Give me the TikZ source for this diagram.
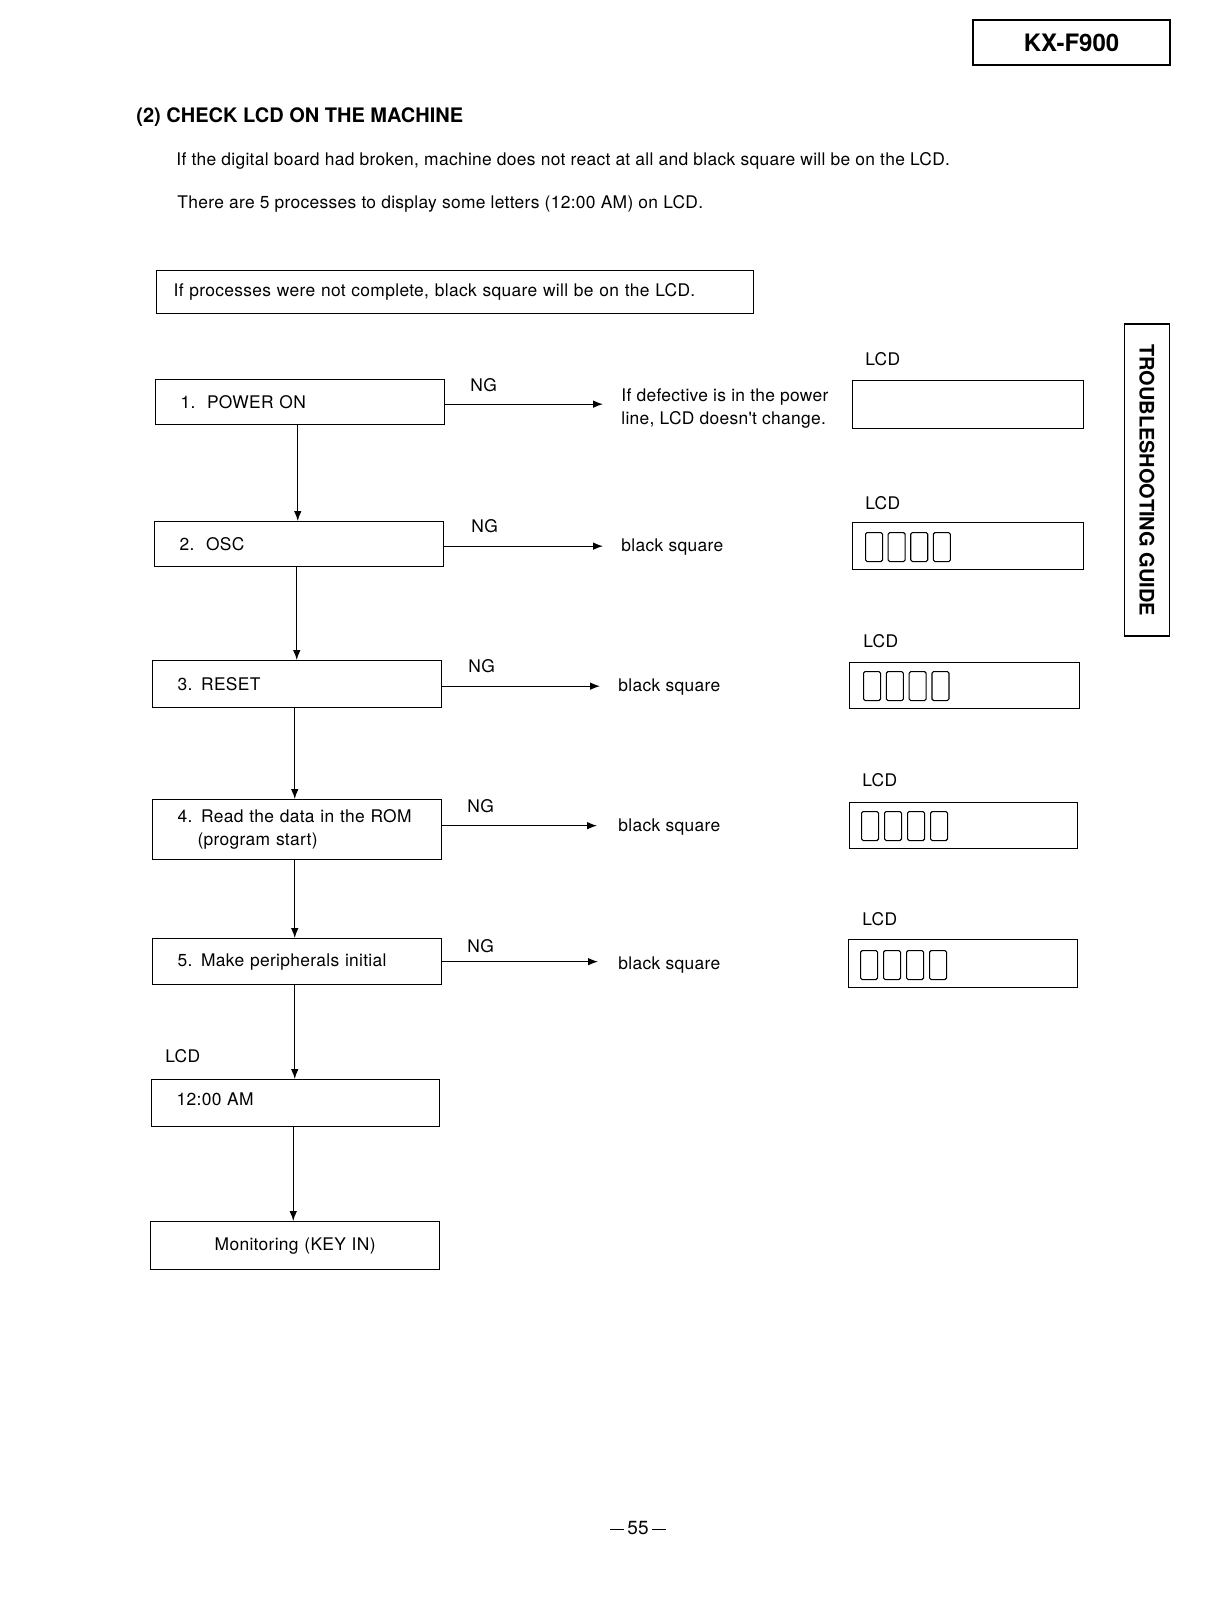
\documentclass[tikz,border=0pt]{standalone}
\usepackage{fontspec}
\setmainfont{TeX Gyre Heros}
\newfontfamily\bodyfam{TeX Gyre Heros}[LetterSpace=1.8]
\usetikzlibrary{arrows.meta,calc}
\def\PX{0.5pt}
\newcommand\bodyfont{\bodyfam\fontsize{8.7pt}{11.5pt}\selectfont}
\newcommand\headfont{\fontsize{10pt}{12pt}\selectfont\bfseries}
\newcommand\kxfont{\fontsize{12pt}{14pt}\selectfont\bfseries}
\begin{document}
\begin{tikzpicture}[x=0.5pt,y=-0.5pt,
  txt/.style={inner sep=0pt, anchor=base west, font=\bodyfont},
  flowbox/.style={draw, line width=0.65pt, anchor=north west, inner xsep=12.5pt, inner ysep=0pt,
    text width=119.5pt, align=left, font=\bodyfont},
  lcdbox/.style={draw, line width=0.65pt, anchor=north west, inner sep=0pt},
  seg/.style={draw, line width=0.55pt, rounded corners=0.8pt, minimum width=17*\PX,
    minimum height=29*\PX, inner sep=0pt, anchor=north west},
  flow/.style={line width=0.55pt, -{Latex[length=5pt,width=3.8pt]}},
]
\useasboundingbox (0,0) rectangle (1216,1608);

% header box
\node[draw, line width=0.65pt, minimum width=197*\PX, minimum height=45*\PX, inner sep=0pt,
  font=\kxfont] (kx) at (1071.5,42.5) {KX-F900};

% side tab
\node[draw, line width=0.65pt, rotate=-90, minimum width=312*\PX, minimum height=45*\PX,
  inner sep=0pt, font=\headfont] (tab) at (1147,480) {TROUBLESHOOTING GUIDE};

% heading and intro
\node[txt, font=\headfont] (head) at (136,122) {(2) CHECK LCD ON THE MACHINE};
\node[txt] (intro1) at (176,165) {If the digital board had broken, machine does not react at all and black square will be on the LCD.};
\node[txt] (intro2) at (177,208) {There are 5 processes to display some letters (12:00 AM) on LCD.};

% note box
\node[draw, line width=0.65pt, anchor=north west, minimum height=43*\PX, inner xsep=8.5pt,
  inner ysep=0pt, text width=281.5pt, align=left, font=\bodyfont] (note) at (156,270)
  {If processes were not complete, black square will be on the LCD.};

% flow boxes
\node[flowbox, minimum height=45*\PX] (b1) at (155,379) {1.\ \ POWER ON};
\node[flowbox, minimum height=45*\PX] (b2) at (154,521) {2.\ \ OSC};
\node[flowbox, minimum height=47*\PX] (b3) at (152,660) {3. RESET};
\node[flowbox, minimum height=60*\PX] (b4) at (152,799) {4. Read the data in the ROM\\\hspace*{10pt}(program start)};
\node[flowbox, minimum height=46*\PX] (b5) at (152,938) {5. Make peripherals initial};
\node[flowbox, minimum height=47*\PX, text width=119pt] (b6) at (151,1079) {12:00 AM\\[-7.5pt]\mbox{}};
\node[flowbox, minimum height=48*\PX, align=center] (b7) at (150,1221) {Monitoring (KEY IN)};

\node[txt] (lcd6) at (165,1062) {LCD};

% vertical arrows
\draw[flow] ([xshift=-1.2pt]b1.south) -- ([xshift=-1.2pt]b1.south |- b2.north);
\draw[flow] ([xshift=-1.2pt]b2.south) -- ([xshift=-1.2pt]b2.south |- b3.north);
\draw[flow] ([xshift=-1.2pt]b3.south) -- ([xshift=-1.2pt]b3.south |- b4.north);
\draw[flow] ([xshift=-1.2pt]b4.south) -- ([xshift=-1.2pt]b4.south |- b5.north);
\draw[flow] ([xshift=-1.2pt]b5.south) -- ([xshift=-1.2pt]b5.south |- b6.north);
\draw[flow] ([xshift=-1.2pt]b6.south) -- ([xshift=-1.2pt]b6.south |- b7.north);

% NG branches
\coordinate (a1) at (603,0);
\coordinate (a2) at (603,0);
\coordinate (a3) at (600,0);
\coordinate (a4) at (597,0);
\coordinate (a5) at (598,0);
\draw[flow] ([yshift=-1pt]b1.east) -- ([yshift=-1pt]b1.east -| a1);
\draw[flow] ([yshift=-1pt]b2.east) -- ([yshift=-1pt]b2.east -| a2);
\draw[flow] ([yshift=-1pt]b3.east) -- ([yshift=-1pt]b3.east -| a3);
\draw[flow] ([yshift=2pt]b4.east) -- ([yshift=2pt]b4.east -| a4);
\draw[flow] (b5.east) -- (b5.east -| a5);

\node[txt] (ng1) at (470,391) {NG};
\node[txt] (ng2) at (471,532) {NG};
\node[txt] (ng3) at (468,672) {NG};
\node[txt] (ng4) at (467,812) {NG};
\node[txt] (ng5) at (467,952) {NG};

\node[txt] (t1a) at (621,401) {If defective is in the power};
\node[txt] (t1b) at (621,424) {line, LCD doesn't change.};
\node[txt] (t2) at (621,551) {black square};
\node[txt] (t3) at (618,691) {black square};
\node[txt] (t4) at (618,831) {black square};
\node[txt] (t5) at (618,969) {black square};

% LCD displays
\node[txt] (l1) at (865,365) {LCD};
\node[txt] (l2) at (865,509) {LCD};
\node[txt] (l3) at (863,647) {LCD};
\node[txt] (l4) at (862,786) {LCD};
\node[txt] (l5) at (862,925) {LCD};

\node[lcdbox, minimum width=231*\PX, minimum height=48*\PX] (d1) at (852,380) {};
\node[lcdbox, minimum width=231*\PX, minimum height=47*\PX] (d2) at (852,522) {};
\node[lcdbox, minimum width=230*\PX, minimum height=46*\PX] (d3) at (849,662) {};
\node[lcdbox, minimum width=228*\PX, minimum height=46*\PX] (d4) at (849,802) {};
\node[lcdbox, minimum width=229*\PX, minimum height=48*\PX] (d5) at (848,939) {};

\foreach \i in {0,1,2,3} {
  \node[seg] (s2-\i) at (865+22.6*\i,532) {};
  \node[seg] (s3-\i) at (863+22.8*\i,671) {};
  \node[seg] (s4-\i) at (861+23.0*\i,811) {};
  \node[seg] (s5-\i) at (860+23.0*\i,950) {};
}

% page number
\node[inner sep=0pt, font=\fontsize{9.5pt}{11pt}\selectfont] (pg) at (638,1528) {\rule[2.6pt]{7pt}{0.35pt}\,55\,\rule[2.6pt]{7pt}{0.35pt}};
\end{tikzpicture}
\end{document}
